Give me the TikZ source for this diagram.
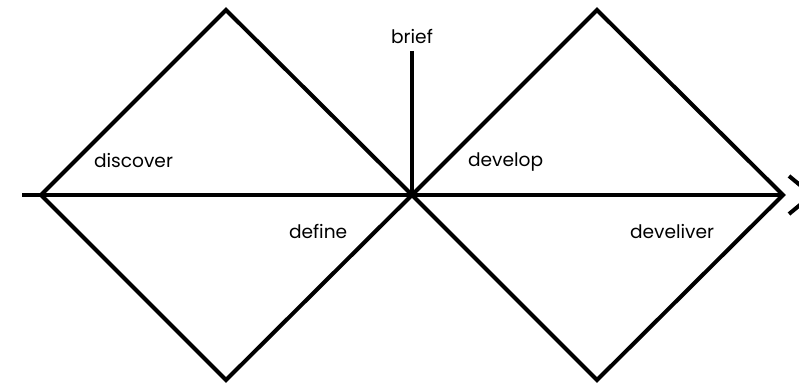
\documentclass[tikz,border=0pt]{standalone}
\usepackage{fontspec}
\setmainfont{Poppins}
\usetikzlibrary{positioning}
\tikzset{
  every picture/.style={font=\rmfamily, line width=2pt, x=0.5pt, y=-0.5pt},
  edge/.style={draw=black, line join=miter},
  phase/.style={font=\fontsize{9.3}{11}\selectfont, inner sep=0pt, anchor=west},
}

\begin{document}
\begin{tikzpicture}
  \useasboundingbox (0,0) rectangle (799,384);
  \clip (0,0) rectangle (799,384);
  % corner points of the two diamonds
  \coordinate (l1) at (41,195);
  \coordinate (t1) at (226,10);
  \coordinate (b1) at (226,380);
  \coordinate (m) at (412,195);
  \coordinate (t2) at (597,10);
  \coordinate (b2) at (597,380);
  \coordinate (r2) at (783,195);
  % axis
  \coordinate (start) at (22,195);
  \coordinate (tip) at (812,195);
  \coordinate (barbu) at (789,176);
  \coordinate (barbl) at (789,214);
  \draw[edge] (l1) -- (t1) -- (m) -- (b1) -- cycle;
  \draw[edge] (m) -- (t2) -- (r2) -- (b2) -- cycle;
  \draw[edge] (start) -- (r2);
  \draw[edge] (barbu) -- (tip) -- (barbl);
  % brief
  \node[phase, anchor=base] (brief) at (412,44) {brief};
  \coordinate (briefend) at (412,51);
  \draw[edge] (briefend) -- (m);
  % phases
  \node[phase] (discover) at (92,161) {discover};
  \node[phase] (define) at (287,231) {define};
  \node[phase] (develop) at (466,162) {develop};
  \node[phase] (deliver) at (628,232) {develiver};
\end{tikzpicture}
\end{document}
